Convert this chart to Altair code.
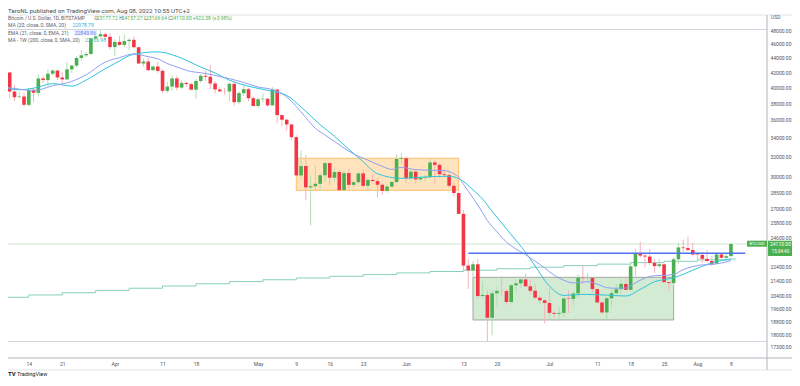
import altair as alt
import pandas as pd

FONT = "Roboto"

# ---------------- data ----------------
dates = [d.strftime("%Y-%m-%d") for d in pd.date_range("2022-03-10", "2022-08-08", freq="D")]

opens = [
    # Mar 10-31
    41940, 39440, 38730, 38810, 37780, 39670, 39280, 41140, 40930, 41780, 42200, 41270, 41020, 42370, 42890, 43960, 44330, 44520, 46820, 47130, 47460, 47070,
    # Apr
    45530, 46290, 45850, 46420, 46610, 45510, 43180, 43450, 42260, 42760, 42160, 39530, 40080, 41150, 39950, 40550, 40400, 39680, 40810, 41500, 41370, 40480, 39710, 39470, 39450, 40430, 38110, 39240, 39740, 38600,
    # May
    37640, 38470, 38530, 37720, 39690, 36550, 36010, 35470, 34040, 30080, 31010, 28940, 29050, 29280, 30100, 31300, 29860, 30420, 28690, 30310, 29180, 29430, 30280, 29090, 29650, 29540, 29190, 28620, 29020, 29450, 31720,
    # Jun
    31790, 29800, 30450, 29700, 29860, 29910, 31370, 31130, 30200, 30110, 29090, 28420, 26570, 22490, 22140, 22580, 20380, 20450, 19000, 20560, 20720, 20710, 19990, 21100, 21230, 21500, 21030, 20730, 20270, 20100,
    # Jul
    19930, 19300, 19240, 19300, 20220, 20190, 20550, 21620, 21590, 21600, 20840, 19960, 19330, 20230, 20570, 20830, 21190, 20790, 22430, 23390, 23220, 23150, 22680, 22450, 22580, 21310, 21250, 22950, 23840, 23790, 23640,
    # Aug 1-8
    23300, 23270, 22980, 22820, 22620, 23310, 23060, 23177.72,
]
highs = [
    42050, 40250, 39360, 39300, 39900, 39880, 41700, 41470, 42320, 42400, 42300, 42000, 43360, 43000, 44200, 45100, 44800, 46900, 48190, 48100, 47700, 47600,
    46700, 47200, 47440, 46900, 47150, 45510, 43900, 43960, 42800, 43420, 42420, 40700, 41550, 41500, 40860, 40700, 40600, 41100, 41740, 42200, 42980, 40800, 39990, 39900, 40600, 40800, 39470, 40380, 39920, 38800,
    38690, 39170, 38640, 40000, 39830, 36650, 36120, 35500, 34250, 32600, 32150, 30100, 31080, 30330, 31400, 31300, 30750, 30660, 30530, 30750, 29620, 30440, 30650, 29820, 30200, 29840, 29380, 29240, 29530, 32200, 32380,
    31960, 30650, 30680, 29960, 30160, 31770, 31570, 31320, 30690, 30380, 29430, 28550, 26900, 23000, 22800, 22980, 21350, 20760, 20800, 21000, 21700, 20870, 21200, 21500, 21560, 21880, 21520, 21200, 20400, 20160,
    20900, 19400, 19650, 20320, 20750, 20660, 21850, 22500, 21950, 21600, 20870, 20050, 20300, 20880, 21200, 21570, 21670, 22700, 23750, 24280, 23400, 23720, 22970, 22980, 22640, 21330, 23100, 24200, 24450, 24680, 24200,
    23480, 23460, 23640, 23220, 23470, 23380, 23400, 24157.27,
]
lows = [
    38550, 38230, 38660, 37580, 37580, 38120, 38850, 40530, 40140, 41530, 40930, 40490, 40890, 41850, 42600, 43600, 44080, 44420, 46680, 46950, 46600, 45200,
    44240, 45650, 45550, 45160, 45390, 43130, 42780, 42120, 42130, 41900, 39230, 39250, 39560, 39570, 39780, 40020, 39570, 38540, 40560, 40850, 39800, 39200, 39300, 39000, 38200, 37700, 37870, 38880, 38200, 37600,
    37400, 38050, 37520, 37700, 35600, 35300, 34780, 33710, 30050, 29740, 27750, 25600, 28720, 28640, 29490, 29110, 29450, 28650, 28670, 28730, 28950, 29250, 28880, 28610, 29330, 28000, 28260, 28450, 28850, 29300, 31220,
    29350, 29580, 29290, 29480, 29500, 29880, 29230, 29850, 29930, 28880, 28130, 26560, 22000, 20850, 20070, 20240, 20250, 17600, 17950, 19650, 20370, 19800, 19900, 20730, 20900, 21000, 20530, 20200, 19850, 18650,
    19000, 18980, 18800, 19050, 19300, 19770, 20250, 21200, 21350, 20660, 19900, 19240, 18900, 19620, 20400, 20500, 20770, 20760, 21600, 23050, 22350, 22500, 21950, 22300, 21300, 20740, 21050, 22600, 23500, 23570, 23230,
    22870, 22670, 22700, 22450, 22600, 22900, 22850, 23169.64,
]
closes = [
    39440, 38730, 38810, 37780, 39670, 39280, 41140, 40930, 41780, 42200, 41270, 41020, 42370, 42890, 43960, 44330, 44520, 46820, 47130, 47460, 47070, 45530,
    46290, 45850, 46420, 46610, 45510, 43180, 43450, 42260, 42760, 42160, 39530, 40080, 41150, 39950, 40550, 40400, 39680, 40810, 41500, 41370, 40480, 39710, 39470, 39450, 40430, 38110, 39240, 39740, 38600, 37640,
    38470, 38530, 37720, 39690, 36550, 36010, 35470, 34040, 30080, 31010, 28940, 29050, 29280, 30100, 31300, 29860, 30420, 28690, 30310, 29180, 29430, 30280, 29090, 29650, 29540, 29190, 28620, 29020, 29450, 31720, 31790,
    29800, 30450, 29700, 29860, 29910, 31370, 31130, 30200, 30110, 29090, 28420, 26570, 22490, 22140, 22580, 20380, 20450, 19000, 20560, 20720, 20710, 19990, 21100, 21230, 21500, 21030, 20730, 20270, 20100, 19930,
    19300, 19240, 19300, 20220, 20190, 20550, 21620, 21590, 21600, 20840, 19960, 19330, 20230, 20570, 20830, 21190, 20790, 22430, 23390, 23220, 23150, 22680, 22450, 22580, 21310, 21250, 22950, 23840, 23790, 23640, 23300,
    23270, 22980, 22820, 22620, 23310, 23060, 23177.72, 24110.00,
]

sma20_dates = ["2022-03-09", "2022-03-12", "2022-03-15", "2022-03-19", "2022-03-23", "2022-03-26", "2022-03-30", "2022-04-01", "2022-04-05", "2022-04-10", "2022-04-14", "2022-04-19", "2022-04-22", "2022-04-25", "2022-04-29", "2022-05-03", "2022-05-07", "2022-05-10", "2022-05-14", "2022-05-17", "2022-05-20", "2022-05-23", "2022-05-26", "2022-05-31", "2022-06-03", "2022-06-07", "2022-06-10", "2022-06-12", "2022-06-15", "2022-06-17", "2022-06-19", "2022-06-21", "2022-06-23", "2022-06-26", "2022-06-28", "2022-07-01", "2022-07-04", "2022-07-08", "2022-07-13", "2022-07-17", "2022-07-20", "2022-07-23", "2022-07-26", "2022-07-28", "2022-07-31", "2022-08-04", "2022-08-08"]
sma20_values = [39900, 39670, 39870, 40460, 40140, 40930, 42460, 43170, 44500, 44830, 44190, 42680, 41880, 40920, 40120, 39590, 38950, 37520, 35440, 34130, 32740, 31440, 30250, 29800, 29880, 29980, 30000, 29780, 28720, 27880, 26800, 25790, 24840, 23470, 22450, 21040, 20420, 20490, 20440, 20380, 20820, 21340, 21550, 21730, 22150, 22680, 22979]

ema21_dates = ["2022-03-09", "2022-03-12", "2022-03-15", "2022-03-19", "2022-03-23", "2022-03-26", "2022-03-30", "2022-04-02", "2022-04-05", "2022-04-08", "2022-04-10", "2022-04-12", "2022-04-14", "2022-04-17", "2022-04-19", "2022-04-22", "2022-04-25", "2022-04-28", "2022-05-01", "2022-05-04", "2022-05-07", "2022-05-09", "2022-05-11", "2022-05-13", "2022-05-15", "2022-05-17", "2022-05-19", "2022-05-21", "2022-05-24", "2022-05-27", "2022-05-29", "2022-05-31", "2022-06-03", "2022-06-06", "2022-06-09", "2022-06-11", "2022-06-12", "2022-06-13", "2022-06-14", "2022-06-16", "2022-06-18", "2022-06-20", "2022-06-22", "2022-06-24", "2022-06-26", "2022-06-28", "2022-06-30", "2022-07-02", "2022-07-04", "2022-07-06", "2022-07-09", "2022-07-11", "2022-07-13", "2022-07-15", "2022-07-17", "2022-07-19", "2022-07-21", "2022-07-23", "2022-07-25", "2022-07-27", "2022-07-29", "2022-07-31", "2022-08-02", "2022-08-04", "2022-08-06", "2022-08-08"]
ema21_values = [40000, 39745, 39548, 40186, 40749, 41629, 43374, 44002, 44536, 44138, 43843, 43172, 42690, 42066, 41910, 41549, 41119, 40613, 40020, 39689, 38764, 37585, 36255, 35026, 34280, 33565, 32865, 32248, 31604, 30978, 30677, 30865, 30645, 30591, 30556, 30241, 29906, 29232, 28587, 27345, 26016, 25084, 24259, 23723, 23295, 22808, 22323, 21793, 21444, 21259, 21345, 21177, 20938, 20898, 20913, 21264, 21597, 21764, 21790, 21851, 22192, 22413, 22535, 22566, 22673, 22844]

ma1w_dates = ["2022-03-07", "2022-03-14", "2022-03-21", "2022-03-28", "2022-04-04", "2022-04-11", "2022-04-18", "2022-04-25", "2022-05-02", "2022-05-09", "2022-05-16", "2022-05-23", "2022-05-30", "2022-06-06", "2022-06-13", "2022-06-20", "2022-06-27", "2022-07-04", "2022-07-11", "2022-07-18", "2022-07-25", "2022-08-01", "2022-08-08", "2022-08-09"]
ma1w_values = [20300, 20450, 20600, 20750, 20900, 21050, 21200, 21350, 21480, 21600, 21720, 21840, 21960, 22060, 22150, 22260, 22370, 22480, 22590, 22700, 22800, 22900, 22967, 22967]

# drawings
range_names = ["consolidation", "base"]
range_start = ["2022-05-09", "2022-06-15"]
range_end = ["2022-06-12", "2022-07-27"]
range_top = [31800, 21650]
range_bottom = [28670, 18864]

level_start = ["2022-06-14"]
level_end = ["2022-08-11"]
level_price = [23400]

marker_prices = [48190, 17600]
last_price = [24110.00]

y_tick_values = [48000, 46000, 44000, 42000, 40000, 38000, 36000, 34000, 32000, 30000, 28500, 27000, 25800, 24600, 22400, 21400, 20400, 19600, 18800, 18000, 17300]
x_tick_dates = ["2022-03-14", "2022-03-21", "2022-04-01", "2022-04-11", "2022-04-18", "2022-05-01", "2022-05-09", "2022-05-16", "2022-05-23", "2022-06-01", "2022-06-13", "2022-06-20", "2022-07-01", "2022-07-11", "2022-07-18", "2022-07-25", "2022-08-01", "2022-08-08"]

# ---------------- frames ----------------
candles = pd.DataFrame({"date": dates, "open": opens, "high": highs, "low": lows, "close": closes})
candles["dir"] = ["up" if c >= o else "down" for o, c in zip(opens, closes)]
sma_df = pd.DataFrame({"date": sma20_dates, "price": sma20_values})
ema_df = pd.DataFrame({"date": ema21_dates, "price": ema21_values})
w_df = pd.DataFrame({"date": ma1w_dates, "price": ma1w_values})
ranges = pd.DataFrame({"name": range_names, "start": range_start, "end": range_end, "top": range_top, "bottom": range_bottom})
level_df = pd.DataFrame({"start": level_start, "end": level_end, "price": level_price})
marker_df = pd.DataFrame({"price": marker_prices})
last_df = pd.DataFrame({"price": last_price})
one = pd.DataFrame({"k": [0]})

# ---------------- scales ----------------
W, H = 759, 343
RIGHT = 25
TOTAL_W = W + RIGHT
base = pd.Timestamp("2022-03-09", tz="UTC")


def ms(ts):
    return int(ts.timestamp() * 1000)


x_domain = [ms(base + pd.Timedelta(days=1.694)), ms(base + pd.Timedelta(days=158.5))]
x_scale = alt.Scale(type="utc", domain=x_domain)
x_axis = alt.Axis(
    values=[ms(pd.Timestamp(d, tz="UTC")) for d in x_tick_dates],
    labelExpr="utcdate(datum.value) == 1 ? utcFormat(datum.value, '%b') : utcFormat(datum.value, '%-d')",
    ticks=False, domain=False, grid=False, title=None,
    labelFontSize=5, labelColor="#50535E", labelFont=FONT, labelPadding=3,
    labelOverlap=False, labelFlush=False,
)
y_scale = alt.Scale(type="log", domain=[16684, 50497], nice=False)
y_axis = alt.Axis(
    orient="right", values=y_tick_values, format=".2f",
    ticks=False, domain=False, grid=False, title=None,
    labelFontSize=5, labelColor="#50535E", labelFont=FONT, labelPadding=3,
    labelOverlap=False, labelFlush=False,
)


def X(field="date"):
    return alt.X(f"{field}:T", scale=x_scale, axis=x_axis)


def Y(field="price"):
    return alt.Y(f"{field}:Q", scale=y_scale, axis=y_axis)


GREEN, RED = "#4CAF50", "#F23645"
GREEN_WICK, RED_WICK = "#B3DDB5", "#F7B3BB"

# ---------------- layers ----------------
markers = alt.Chart(marker_df).mark_rule(color="#D1D4DC", strokeWidth=1, clip=True).encode(y=Y("price"))
lastline = alt.Chart(last_df).mark_rule(color="#CDE6CE", strokeWidth=1, clip=True).encode(y=Y("price"))

box_fill = alt.Chart(ranges).mark_rect(clip=True, strokeWidth=1).encode(
    x=X("start"), x2=alt.X2("end"), y=Y("top"), y2=alt.Y2("bottom"),
    fill=alt.Fill("name:N", scale=alt.Scale(domain=range_names, range=["#FFE3BC", "#D3EBD3"]), legend=None),
    stroke=alt.Stroke("name:N", scale=alt.Scale(domain=range_names, range=["#FFBE6A", "#A3A8A3"]), legend=None),
)

wma = alt.Chart(w_df).mark_line(color="#86CFBE", strokeWidth=1, interpolate="step-after", clip=True).encode(x=X(), y=Y())


def candle_layers(direction, wick_color, body_color):
    src = alt.Chart(candles).transform_filter(alt.datum.dir == direction)
    w = src.mark_rule(strokeWidth=1, clip=True, color=wick_color).encode(x=X(), y=Y("low"), y2=alt.Y2("high"))
    b = src.mark_bar(size=3.6, clip=True, color=body_color).encode(x=X(), y=Y("open"), y2=alt.Y2("close"))
    return w, b


up_wick, up_body = candle_layers("up", GREEN_WICK, GREEN)
dn_wick, dn_body = candle_layers("down", RED_WICK, RED)

sma_line = alt.Chart(sma_df).mark_line(color="#2EC4DC", strokeWidth=1, interpolate="monotone", clip=True).encode(x=X(), y=Y())
ema_line = alt.Chart(ema_df).mark_line(color="#8FA0F2", strokeWidth=1, interpolate="monotone", clip=True).encode(x=X(), y=Y())

level = alt.Chart(level_df).mark_rule(color="#4F72F0", strokeWidth=1.5, clip=True).encode(
    x=X("start"), x2=alt.X2("end"), y=Y("price")
)


# ---------------- overlays (pixel placed) ----------------
def txt(s, x, y, color, size=5, align="left", weight="normal"):
    return alt.Chart(one).mark_text(
        text=s, align=align, baseline="middle", fontSize=size, color=color, fontWeight=weight, font=FONT
    ).encode(x=alt.value(x), y=alt.value(y))


def rect(x1, x2, y1, y2, color):
    return alt.Chart(one).mark_rect(color=color).encode(
        x=alt.value(x1), x2=alt.value(x2), y=alt.value(y1), y2=alt.value(y2)
    )


def hline(x1, x2, y, color):
    return alt.Chart(one).mark_rule(color=color, strokeWidth=1).encode(x=alt.value(x1), x2=alt.value(x2), y=alt.value(y))


def vline(x, y1, y2, color):
    return alt.Chart(one).mark_rule(color=color, strokeWidth=1).encode(x=alt.value(x), y=alt.value(y1), y2=alt.value(y2))


GRAY = "#5D606B"
overlays = [
    hline(0, TOTAL_W, 0, "#E0E3EB"),
    hline(0, TOTAL_W, 343, "#B2B5BE"),
    hline(0, TOTAL_W, 355, "#E0E3EB"),
    vline(759, 0, 355, "#B2B5BE"),
    txt("TaroNL published on TradingView.com, Aug 08, 2022 10:55 UTC+2", 0, -4, "#4A4A4A", size=6.2),
    txt("Bitcoin / U.S. Dollar, 1D, BITSTAMP", 0, 3.3, GRAY),
    txt("O", 86.3, 3.3, GRAY), txt("23177.72", 88.7, 3.3, GREEN),
    txt("H", 111.3, 3.3, GRAY), txt("24157.27", 113.7, 3.3, GREEN),
    txt("L", 136.3, 3.3, GRAY), txt("23169.64", 138, 3.3, GREEN),
    txt("C", 160.3, 3.3, GRAY), txt("24110.00", 162.7, 3.3, GREEN),
    txt("+922.38 (+3.98%)", 184.7, 3.3, GREEN),
    txt("MA (20, close, 0, SMA, 20)", 0, 10, GRAY), txt("22978.79", 64.7, 10, "#2BAFD6"),
    rect(66, 89, 15, 20.5, "#E6ECFD"),
    txt("EMA (21, close, 0, EMA, 21)", 0, 17.7, GRAY), txt("22843.86", 67, 17.7, "#6C83F0"),
    txt("MA - 1W (200, close, 0, SMA, 20)", 0, 25, GRAY), txt("22966.98", 77, 25, "#4DB6AC"),
    txt("USD", 763, 1.7, GRAY),
    rect(739, 759, 225.7, 231.7, GREEN), txt("BTCUSD", 749, 228.7, "white", size=4, align="center"),
    rect(760, TOTAL_W, 225.7, 241, GREEN),
    txt("24110.00", 772.5, 229, "white", size=5, align="center"),
    txt("15:04:40", 772.5, 236.5, "white", size=4.5, align="center"),
    txt("TV", 0, 358.5, "#131722", size=6, weight="bold"),
    txt("TradingView", 9, 358.5, "#131722", size=5.5),
]

chart = alt.layer(
    markers, lastline, box_fill, wma, up_wick, dn_wick, up_body, dn_body, sma_line, ema_line, level, *overlays
).properties(
    width=W, height=H,
    padding={"left": 0, "top": 7, "right": RIGHT, "bottom": 20},
    autosize=alt.AutoSizeParams(type="none"),
    background="white",
).configure_view(stroke=None)

chart.save("out.html", embed_options={"renderer": "svg", "actions": False})
